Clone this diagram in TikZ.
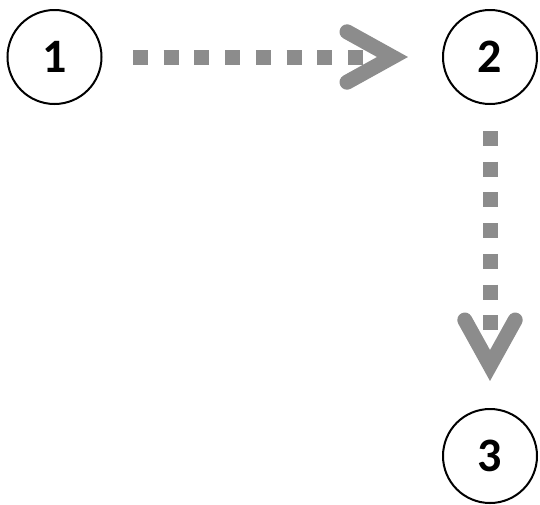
\documentclass[tikz,border=0pt]{standalone}
\usepackage{fontspec}
\setmainfont{Carlito}
\usetikzlibrary{calc}
\definecolor{arrowgray}{RGB}{140,140,140}
\begin{document}
\begin{tikzpicture}[x=1pt,y=-1pt,
  num/.style={circle, draw=black, line width=2pt, minimum size=94pt, inner sep=0pt, outer sep=0pt,
    font=\fontsize{48}{48}\selectfont\bfseries},
  conn/.style={draw=arrowgray, line width=15pt, line cap=butt, dash pattern=on 15pt off 15.7pt},
  chev/.style={draw=arrowgray, line width=15pt, line cap=round, line join=miter}]
\useasboundingbox (0,0) rectangle (540,504);
\node[num] (n1) at (54.5,57) {1};
\node[num] (n2) at (490,57) {2};
\node[num] (n3) at (490,456) {3};
% connector 1 -> 2
\draw[conn, shorten <=31.5pt, shorten >=79pt] (n1) -- (n2);
\coordinate (h) at (392.5,57);
\draw[chev] ($(h)+(-45.5,-25.2)$) -- (h) -- ($(h)+(-45.5,25.2)$);
% connector 2 -> 3
\draw[conn, shorten <=27pt, shorten >=78pt] (n2) -- (n3);
\coordinate (v) at (490,365.5);
\draw[chev] ($(v)+(-25.2,-45.5)$) -- (v) -- ($(v)+(25.2,-45.5)$);
\end{tikzpicture}
\end{document}
